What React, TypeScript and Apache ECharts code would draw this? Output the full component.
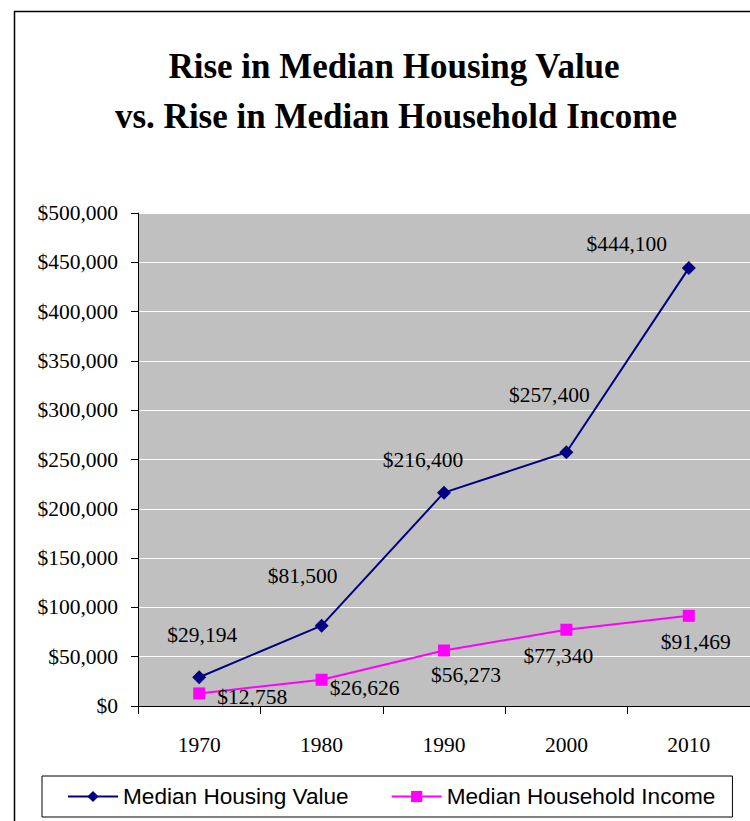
import React, { useEffect, useRef } from "react";
import * as echarts from "echarts";

const years = ["1970", "1980", "1990", "2000", "2010"];
const housingValues = [29194, 81500, 216400, 257400, 444100];
const incomeValues = [12758, 26626, 56273, 77340, 91469];
const titleLines = ["Rise in Median Housing Value", "vs. Rise in Median Household Income"];
const seriesNames = ["Median Housing Value", "Median Household Income"];

// label placement (style), offsets in px relative to each marker
const housingLabelOffsets = [[3, -42], [-19, -50], [-21, -33], [-17, -57], [-62, -24]];
const incomeLabelOffsets = [[53, 4], [43, 8], [22, 24], [-8, 26], [7, 26]];

const money = (v: number) => "$" + v.toLocaleString("en-US");

export default function App() {
  const ref = useRef<HTMLDivElement>(null);
  useEffect(() => {
    if (!ref.current) return;
    const chart = echarts.init(ref.current, null, { renderer: "svg" });
    const serif = "'Liberation Serif', 'Times New Roman', serif";
    const sans = "'Liberation Sans', Arial, sans-serif";
    const mk = (vals: number[], offs: number[][]) =>
      vals.map((v, i) => ({ value: v, label: { offset: offs[i] } }));
    const labelCommon = {
      show: true,
      position: "inside",
      align: "center",
      verticalAlign: "middle",
      color: "#000",
      fontFamily: serif,
      fontSize: 21.5,
      formatter: (p: any) => money(p.value),
    };
    chart.setOption({
      animation: false,
      backgroundColor: "#fff",
      graphic: [
        {
          type: "rect",
          shape: { x: 14.5, y: 11.5, width: 800, height: 900 },
          style: { fill: "none", stroke: "#000", lineWidth: 1.5 },
          silent: true,
        },
        {
          type: "text",
          x: 394,
          y: 66,
          style: {
            text: titleLines[0],
            font: "bold 35px " + serif,
            fill: "#000",
            textAlign: "center",
            textVerticalAlign: "middle",
          },
        },
        {
          type: "text",
          x: 396,
          y: 116,
          style: {
            text: titleLines[1],
            font: "bold 35px " + serif,
            fill: "#000",
            textAlign: "center",
            textVerticalAlign: "middle",
          },
        },
      ],
      grid: {
        left: 138,
        top: 213,
        right: 0,
        bottom: 115,
        show: true,
        backgroundColor: "#C0C0C0",
        borderWidth: 0,
      },
      legend: {
        left: 42,
        top: 776,
        padding: [9, 17, 9, 25],
        itemGap: 42,
        itemWidth: 50,
        itemHeight: 14,
        borderColor: "#000",
        borderWidth: 1,
        textStyle: { fontFamily: sans, fontSize: 22.6, color: "#000" },
        data: seriesNames,
      },
      xAxis: {
        type: "category",
        data: years,
        boundaryGap: true,
        axisLine: { show: true, lineStyle: { color: "#000", width: 1 } },
        axisTick: { show: true, length: 8, lineStyle: { color: "#000" } },
        axisLabel: { fontFamily: serif, fontSize: 21.5, color: "#000", margin: 28 },
        splitLine: { show: false },
      },
      yAxis: {
        type: "value",
        min: 0,
        max: 500000,
        interval: 50000,
        axisLine: { show: true, lineStyle: { color: "#000", width: 1 } },
        axisTick: { show: true, length: 7, lineStyle: { color: "#000" } },
        axisLabel: {
          fontFamily: serif,
          fontSize: 21.5,
          color: "#000",
          margin: 20,
          formatter: (v: number) => money(v),
        },
        splitLine: { show: true, lineStyle: { color: "#ffffff", width: 1 } },
      },
      series: [
        {
          name: seriesNames[0],
          type: "line",
          data: mk(housingValues, housingLabelOffsets),
          symbol: "diamond",
          symbolSize: 14,
          lineStyle: { color: "#000080", width: 2 },
          itemStyle: { color: "#000080" },
          label: labelCommon,
          z: 3,
        },
        {
          name: seriesNames[1],
          type: "line",
          data: mk(incomeValues, incomeLabelOffsets),
          symbol: "rect",
          symbolSize: 12,
          lineStyle: { color: "#FF00FF", width: 2 },
          itemStyle: { color: "#FF00FF" },
          label: labelCommon,
          z: 2,
        },
      ],
    });
    return () => chart.dispose();
  }, []);
  return (
    <div
      ref={ref}
      style={{ position: "absolute", left: 0, top: 0, width: 750, height: 821 }}
    />
  );
}
